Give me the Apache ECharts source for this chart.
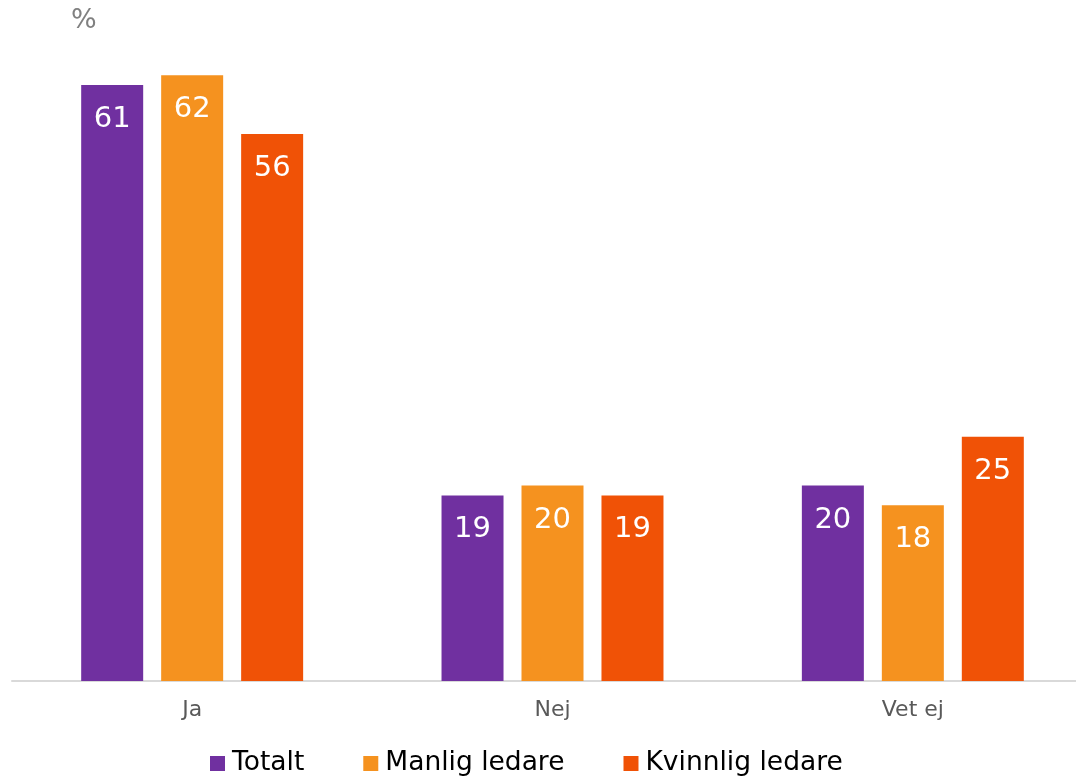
<!DOCTYPE html>
<html>
<head>
<meta charset="utf-8">
<script src="https://cdn.jsdelivr.net/npm/echarts@6/dist/echarts.min.js"></script>
<style>
  html, body { margin: 0; padding: 0; background: #fff; overflow: hidden; }
  /* the category band runs a little past the right edge in the original */
  #chart { width: 1093px; height: 779px; }
</style>
</head>
<body>
<div id="chart"></div>
<script>
const categories = ["Ja", "Nej", "Vet ej"];
const seriesNames = ["Totalt", "Manlig ledare", "Kvinnlig ledare"];
const totalt = [61, 19, 20];
const manlig = [62, 20, 18];
const kvinnlig = [56, 19, 25];
const colors = ["#7030A0", "#F5921F", "#F05206"];

const chart = echarts.init(document.getElementById("chart"));

const labelStyle = {
  show: true,
  position: "insideTop",
  distance: 20,
  color: "#fff",
  fontSize: 29,
  fontFamily: "DejaVu Sans"
};

function makeSeries(name, data, color) {
  return {
    name: name,
    type: "bar",
    data: data,
    barWidth: 62,
    barGap: "29%",
    itemStyle: { color: color },
    label: labelStyle
  };
}

chart.setOption({
  animation: false,
  textStyle: { fontFamily: "DejaVu Sans" },
  grid: { left: 12, top: 46, width: 1081, height: 635 },
  graphic: [{
    type: "text",
    left: 71,
    top: 7,
    style: { text: "%", fill: "#808080", fontSize: 27, fontFamily: "DejaVu Sans" }
  }],
  legend: {
    data: seriesNames,
    left: 210,
    top: 750,
    padding: 0,
    itemWidth: 15,
    itemHeight: 15,
    itemGap: 59,
    icon: "rect",
    textStyle: { color: "#000", fontSize: 26.5, fontFamily: "DejaVu Sans", padding: [0, 0, 0, 2] }
  },
  xAxis: {
    type: "category",
    data: categories,
    axisLine: { lineStyle: { color: "#d9d9d9", width: 2 } },
    axisTick: { show: false },
    axisLabel: { color: "#595959", fontSize: 22, margin: 18 }
  },
  yAxis: {
    type: "value",
    min: 0,
    max: 65,
    show: false,
    splitLine: { show: false }
  },
  series: [
    makeSeries(seriesNames[0], totalt, colors[0]),
    makeSeries(seriesNames[1], manlig, colors[1]),
    makeSeries(seriesNames[2], kvinnlig, colors[2])
  ]
});
</script>
</body>
</html>
